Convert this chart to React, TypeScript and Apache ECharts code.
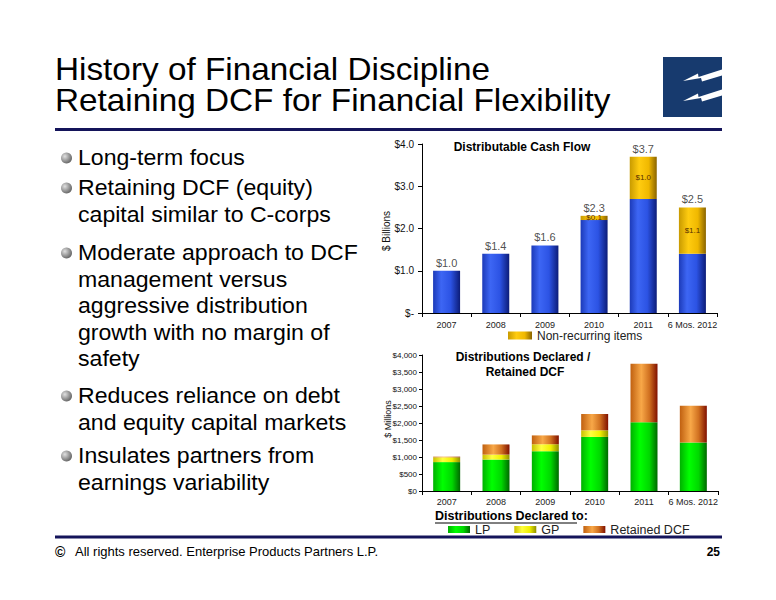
import React, { useEffect, useRef } from "react";
import * as echarts from "echarts";

const categories = ["2007", "2008", "2009", "2010", "2011", "6 Mos. 2012"];
// Distributable Cash Flow ($ billions)
const dcfBase = [1.0, 1.4, 1.6, 2.2, 2.7, 1.4];
const nonRecurring = [0, 0, 0, 0.1, 1.0, 1.1];
// Distributions Declared / Retained DCF ($ millions)
const lpValues = [850, 925, 1170, 1590, 2025, 1425];
const gpValues = [140, 145, 205, 195, 0, 0];
const retainedValues = [20, 300, 260, 480, 1720, 1085];

const dcfTicks = [0, 1, 2, 3, 4];
const millionTicksMax = 4000;

const titleLines = ["History of Financial Discipline", "Retaining DCF for Financial Flexibility"];
const bullets = [
  ["Long-term focus"],
  ["Retaining DCF (equity)", "capital similar to C-corps"],
  ["Moderate approach to DCF", "management versus", "aggressive distribution", "growth with no margin of", "safety"],
  ["Reduces reliance on debt", "and equity capital markets"],
  ["Insulates partners from", "earnings variability"],
];
const footerText = "All rights reserved. Enterprise Products Partners L.P.";
const pageNumber = "25";

const FONT = "'Liberation Sans', Arial, sans-serif";

function grad(stops: [number, string][]) {
  return new echarts.graphic.LinearGradient(
    0, 0, 1, 0,
    stops.map(([offset, color]) => ({ offset, color }))
  );
}

export default function App() {
  const ref = useRef<HTMLDivElement>(null);

  useEffect(() => {
    if (!ref.current) return;
    const chart = echarts.init(ref.current, null, { renderer: "svg" });

    const blue = grad([[0, "#1c3ab8"], [0.3, "#3d66f4"], [0.65, "#2c53e4"], [1, "#0c1c78"]]);
    const gold = grad([[0, "#c89a00"], [0.35, "#ffcc10"], [0.7, "#f0b800"], [1, "#8a6400"]]);
    const green = grad([[0, "#00b000"], [0.35, "#00ff00"], [0.7, "#00d800"], [1, "#006800"]]);
    const yellow = grad([[0, "#c8c000"], [0.35, "#ffff40"], [0.7, "#f0f000"], [1, "#909000"]]);
    const orange = grad([[0, "#c06010"], [0.4, "#f8a848"], [0.7, "#d07020"], [1, "#801000"]]);

    const totals = dcfBase.map((v, i) => +(v + nonRecurring[i]).toFixed(1));

    // bullet graphics
    const bulletGraphics: any[] = [];
    const paraStarts = [158, 188, 253, 396, 456];
    const lineStep = 26.5;
    bullets.forEach((para, pi) => {
      const y0 = paraStarts[pi];
      bulletGraphics.push({
        type: "circle",
        shape: { cx: 66.5, cy: y0, r: 5.5 },
        style: {
          fill: new echarts.graphic.RadialGradient(0.35, 0.35, 0.75, [
            { offset: 0, color: "#e0e0e0" },
            { offset: 1, color: "#5a5a5a" },
          ]),
        },
      });
      para.forEach((line, li) => {
        bulletGraphics.push({
          type: "text",
          x: 78,
          y: y0 + li * lineStep,
          scaleX: 1.05,
          style: {
            text: line,
            font: `22px ${FONT}`,
            fill: "#000",
            textAlign: "left",
            textVerticalAlign: "middle",
          },
        });
      });
    });

    const bolt = (dy: number) => ({
      type: "polygon",
      shape: {
        points: [
          [683, 81 + dy], [698, 73.5 + dy], [698.5, 77 + dy], [722, 69.5 + dy],
          [722, 75.5 + dy], [702, 81.5 + dy], [701, 78 + dy],
        ],
      },
      style: { fill: "#ffffff" },
    });

    const option: any = {
      animation: false,
      backgroundColor: "#ffffff",
      textStyle: { fontFamily: FONT },
      grid: [
        { left: 422, top: 144, width: 295, height: 169 },
        { left: 422, top: 355, width: 296, height: 136 },
      ],
      xAxis: [
        {
          type: "category", gridIndex: 0, data: categories,
          axisLine: { lineStyle: { color: "#000", width: 1 } },
          axisTick: { show: true, alignWithLabel: false, length: 4, lineStyle: { color: "#000" } },
          axisLabel: { interval: 0, fontSize: 9, color: "#222", margin: 7, fontFamily: FONT },
        },
        {
          type: "category", gridIndex: 1, data: categories,
          axisLine: { lineStyle: { color: "#000", width: 1 } },
          axisTick: { show: true, alignWithLabel: false, length: 4, lineStyle: { color: "#000" } },
          axisLabel: { interval: 0, fontSize: 9, color: "#222", margin: 6, fontFamily: FONT },
        },
      ],
      yAxis: [
        {
          type: "value", gridIndex: 0, min: dcfTicks[0], max: dcfTicks[dcfTicks.length - 1], interval: 1,
          axisLine: { show: true, lineStyle: { color: "#000" } },
          axisTick: { show: true, length: 4, lineStyle: { color: "#000" } },
          splitLine: { show: false },
          axisLabel: {
            fontSize: 10, color: "#111", margin: 8, fontFamily: FONT,
            formatter: (v: number) => (v === 0 ? "$-" : "$" + v.toFixed(1)),
          },
        },
        {
          type: "value", gridIndex: 1, min: 0, max: millionTicksMax, interval: 500,
          axisLine: { show: true, lineStyle: { color: "#000" } },
          axisTick: { show: true, length: 3, lineStyle: { color: "#000" } },
          splitLine: { show: false },
          axisLabel: {
            fontSize: 8, color: "#111", margin: 5, fontFamily: FONT,
            formatter: (v: number) => "$" + v.toLocaleString("en-US"),
          },
        },
      ],
      legend: [
        {
          data: ["Non-recurring items"],
          left: 503, top: 324.5, itemWidth: 24, itemHeight: 8, itemGap: 10,
          textStyle: { fontSize: 12, color: "#222", fontFamily: FONT },
          icon: "rect",
        },
        {
          data: ["LP", "GP", "Retained DCF"],
          left: 443, top: 518, itemWidth: 22, itemHeight: 7, itemGap: 24,
          textStyle: { fontSize: 12.5, color: "#222", fontFamily: FONT },
          icon: "rect",
        },
      ],
      series: [
        {
          name: "DCF", type: "bar", stack: "dcf", xAxisIndex: 0, yAxisIndex: 0,
          barWidth: 27, data: dcfBase, itemStyle: { color: blue },
        },
        {
          name: "Non-recurring items", type: "bar", stack: "dcf", xAxisIndex: 0, yAxisIndex: 0,
          barWidth: 27, data: nonRecurring, itemStyle: { color: gold },
          label: {
            show: true, position: "inside", fontSize: 8, color: "#5a3000", fontFamily: FONT,
            formatter: (p: any) => (p.value > 0 ? "$" + p.value.toFixed(1) : ""),
          },
        },
        {
          name: "Total", type: "scatter", xAxisIndex: 0, yAxisIndex: 0,
          data: totals, symbolSize: 1, itemStyle: { color: "rgba(0,0,0,0)" },
          label: {
            show: true, position: "top", distance: 2, fontSize: 11, color: "#222", fontFamily: FONT,
            formatter: (p: any) => "$" + Number(p.value).toFixed(1),
          },
        },
        {
          name: "LP", type: "bar", stack: "dist", xAxisIndex: 1, yAxisIndex: 1,
          barWidth: 27, data: lpValues, itemStyle: { color: green },
        },
        {
          name: "GP", type: "bar", stack: "dist", xAxisIndex: 1, yAxisIndex: 1,
          barWidth: 27, data: gpValues, itemStyle: { color: yellow },
        },
        {
          name: "Retained DCF", type: "bar", stack: "dist", xAxisIndex: 1, yAxisIndex: 1,
          barWidth: 27, data: retainedValues, itemStyle: { color: orange },
        },
      ],
      graphic: [
        // title
        ...titleLines.map((t, i) => ({
          type: "text", x: 55, y: 69.5 + i * 31, scaleX: 1.075,
          style: { text: t, font: `31px ${FONT}`, fill: "#000", textAlign: "left", textVerticalAlign: "middle" },
        })),
        // logo
        { type: "rect", shape: { x: 663, y: 57, width: 59, height: 60 }, style: { fill: "#173a6e" } },
        bolt(0),
        bolt(20),
        // rules
        { type: "rect", shape: { x: 55, y: 128, width: 667, height: 3 }, style: { fill: "#14145a" } },
        { type: "rect", shape: { x: 55, y: 535.5, width: 667, height: 3 }, style: { fill: "#14145a" } },
        ...bulletGraphics,
        // chart titles
        {
          type: "text", x: 522, y: 147,
          style: { text: "Distributable Cash Flow", font: `bold 12px ${FONT}`, fill: "#000", textAlign: "center", textVerticalAlign: "middle" },
        },
        {
          type: "text", x: 523, y: 357,
          style: { text: "Distributions Declared /", font: `bold 12px ${FONT}`, fill: "#000", textAlign: "center", textVerticalAlign: "middle" },
        },
        {
          type: "text", x: 525, y: 372,
          style: { text: "Retained DCF", font: `bold 12px ${FONT}`, fill: "#000", textAlign: "center", textVerticalAlign: "middle" },
        },
        // axis names
        {
          type: "text", x: 386, y: 231, rotation: Math.PI / 2,
          style: { text: "$ Billions", font: `10px ${FONT}`, fill: "#111", textAlign: "center", textVerticalAlign: "middle" },
        },
        {
          type: "text", x: 388, y: 419, rotation: Math.PI / 2,
          style: { text: "$ Millions", font: `9px ${FONT}`, fill: "#111", textAlign: "center", textVerticalAlign: "middle" },
        },
        // legend heading
        {
          type: "text", x: 435, y: 516,
          style: { text: "Distributions Declared to:", font: `bold 12.5px ${FONT}`, fill: "#000", textAlign: "left", textVerticalAlign: "middle" },
        },
        { type: "line", shape: { x1: 435, y1: 523, x2: 577, y2: 523 }, style: { stroke: "#000", lineWidth: 1 } },
        // footer
        {
          type: "text", x: 55, y: 551.5,
          style: { text: "©", font: `bold 14px ${FONT}`, fill: "#000", textAlign: "left", textVerticalAlign: "middle" },
        },
        {
          type: "text", x: 75, y: 551.5,
          style: { text: footerText, font: `13px ${FONT}`, fill: "#000", textAlign: "left", textVerticalAlign: "middle" },
        },
        {
          type: "text", x: 720, y: 551.5,
          style: { text: pageNumber, font: `bold 12px ${FONT}`, fill: "#000", textAlign: "right", textVerticalAlign: "middle" },
        },
      ],
    };

    chart.setOption(option);
    return () => chart.dispose();
  }, []);

  return (
    <div
      ref={ref}
      style={{ position: "absolute", left: 0, top: 0, width: 776, height: 600, background: "#fff" }}
    />
  );
}
